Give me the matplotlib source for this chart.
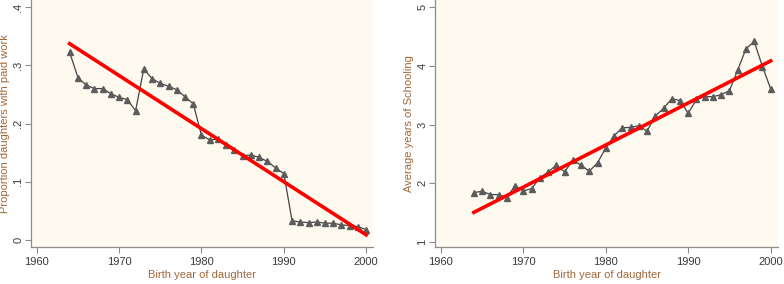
import numpy as np
import matplotlib
matplotlib.use('Agg')
import matplotlib.pyplot as plt

plt.rcParams['font.family'] = ['Liberation Sans', 'DejaVu Sans']

# birth years of daughters
years = list(range(1964, 2001))

# proportion of daughters with paid work
paid_work = [0.322, 0.279, 0.266, 0.260, 0.260, 0.251, 0.245, 0.241, 0.222,
             0.294, 0.277, 0.269, 0.264, 0.258, 0.246, 0.234,
             0.180, 0.172, 0.173, 0.163, 0.155, 0.145, 0.146, 0.142, 0.135,
             0.124, 0.114,
             0.033, 0.031, 0.030, 0.031, 0.029, 0.029, 0.026, 0.025, 0.023, 0.018]

# average years of schooling
schooling = [1.842, 1.865, 1.808, 1.808, 1.757, 1.962, 1.871, 1.910, 2.092,
             2.195, 2.309, 2.195, 2.394, 2.309, 2.206, 2.349,
             2.605, 2.809, 2.946, 2.952, 2.980, 2.889, 3.145, 3.276, 3.441,
             3.407, 3.191,
             3.430, 3.475, 3.475, 3.509, 3.578, 3.930, 4.289, 4.414, 3.987, 3.606]

# fitted lines (end points)
fit_years = [1964, 2000]
fit_paid = [0.337, 0.009]
fit_school = [1.506, 4.084]

bg = '#fffaef'
lab_col = '#a0683a'
tick_col = '#3a3a3a'
spine_col = '#8c8c8c'
mark_col = '#5c5c5c'

fig = plt.figure(figsize=(7.84, 2.84), dpi=100)
ax1 = fig.add_axes([0.0395, 0.130, 0.436, 0.870])
ax2 = fig.add_axes([0.555, 0.130, 0.4375, 0.870])


def style(ax, ylab):
    ax.set_facecolor(bg)
    for s in ['top', 'right']:
        ax.spines[s].set_visible(False)
    for s in ['left', 'bottom']:
        ax.spines[s].set_color(spine_col)
        ax.spines[s].set_linewidth(0.9)
    ax.tick_params(colors=spine_col, labelcolor=tick_col, labelsize=8, length=4, width=0.8)
    ax.tick_params(axis='y', pad=1.5)
    ax.set_xticks([1960, 1970, 1980, 1990, 2000])
    ax.set_xlabel('Birth year of daughter', color=lab_col, fontsize=8, va='center')
    ax.set_ylabel(ylab, color=lab_col, fontsize=8, va='center')
    ax.xaxis.set_label_coords(0.5, -0.113)
    ax.yaxis.set_label_coords(-0.077, 0.5)
    for t in ax.get_yticklabels():
        t.set_rotation(90)
        t.set_va('center')


# left panel
ax1.plot(years, paid_work, '-', color='#444444', lw=0.9,
         marker='^', ms=5, mfc=mark_col, mec=mark_col)
ax1.plot(fit_years, fit_paid, '-', color='#ff0000', lw=2.6)
ax1.set_xlim(1959.3, 2000.8)
ax1.set_ylim(-0.012, 0.412)
ax1.set_yticks([0, 0.1, 0.2, 0.3, 0.4])
ax1.set_yticklabels(['0', '.1', '.2', '.3', '.4'])
style(ax1, 'Proportion daughters with paid work')

# right panel
ax2.plot(years, schooling, '-', color='#444444', lw=0.9,
         marker='^', ms=5, mfc=mark_col, mec=mark_col)
ax2.plot(fit_years, fit_school, '-', color='#ff0000', lw=2.6)
ax2.set_xlim(1959.3, 2000.9)
ax2.set_ylim(0.915, 5.12)
ax2.set_yticks([1, 2, 3, 4, 5])
style(ax2, 'Average years of Schooling')

fig.savefig('out.png', dpi=100, facecolor='white')
